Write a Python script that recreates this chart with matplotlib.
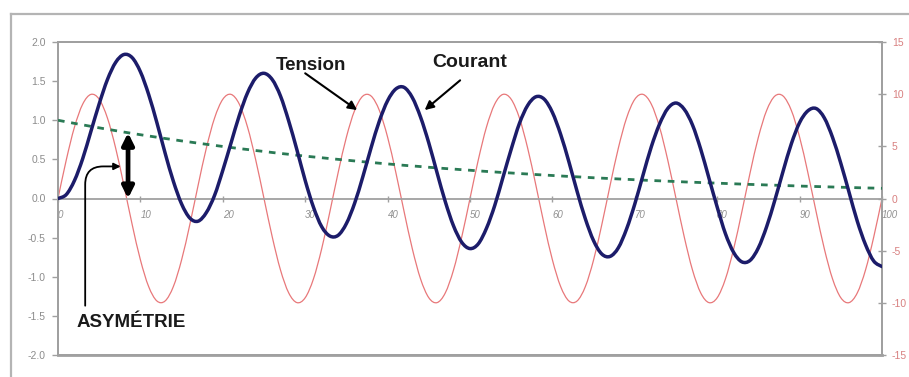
import matplotlib
matplotlib.use("Agg")
import matplotlib.pyplot as plt
from matplotlib.lines import Line2D
from matplotlib.path import Path
from matplotlib.patches import PathPatch

plt.rcParams['font.family'] = ['Liberation Sans', 'DejaVu Sans']

# time axis (ms)
t = list(range(0, 101))

# Tension (right axis)
tension = [0, 3.68, 6.85, 9.05, 9.98, 9.51, 7.71, 4.82, 1.25, -2.49,
           -5.88, -8.44, -9.82, -9.82, -8.44, -5.88, -2.49, 1.25, 4.82, 7.71,
           9.51, 9.98, 9.05, 6.85, 3.68, 0, -3.68, -6.85, -9.05, -9.98,
           -9.51, -7.71, -4.82, -1.25, 2.49, 5.88, 8.44, 9.82, 9.82, 8.44,
           5.88, 2.49, -1.25, -4.82, -7.71, -9.51, -9.98, -9.05, -6.85, -3.68,
           0, 3.68, 6.85, 9.05, 9.98, 9.51, 7.71, 4.82, 1.25, -2.49,
           -5.88, -8.44, -9.82, -9.82, -8.44, -5.88, -2.49, 1.25, 4.82, 7.71,
           9.51, 9.98, 9.05, 6.85, 3.68, 0, -3.68, -6.85, -9.05, -9.98,
           -9.51, -7.71, -4.82, -1.25, 2.49, 5.88, 8.44, 9.82, 9.82, 8.44,
           5.88, 2.49, -1.25, -4.82, -7.71, -9.51, -9.98, -9.05, -6.85, -3.68,
           0]

# Courant (left axis)
courant = [0, 0.05, 0.23, 0.51, 0.86, 1.21, 1.52, 1.74, 1.84, 1.80,
           1.62, 1.33, 0.97, 0.58, 0.22, -0.07, -0.25, -0.29, -0.18, 0.04,
           0.36, 0.71, 1.06, 1.35, 1.54, 1.60, 1.52, 1.31, 0.99, 0.62,
           0.23, -0.11, -0.36, -0.48, -0.47, -0.32, -0.06, 0.28, 0.65, 0.99,
           1.25, 1.40, 1.42, 1.29, 1.04, 0.71, 0.33, -0.04, -0.35, -0.56,
           -0.64, -0.58, -0.38, -0.09, 0.27, 0.63, 0.96, 1.19, 1.30, 1.27,
           1.10, 0.82, 0.47, 0.09, -0.26, -0.54, -0.71, -0.74, -0.63, -0.39,
           -0.07, 0.30, 0.66, 0.95, 1.15, 1.22, 1.14, 0.94, 0.63, 0.26,
           -0.11, -0.45, -0.69, -0.81, -0.79, -0.63, -0.36, -0.02, 0.35, 0.70,
           0.97, 1.12, 1.15, 1.03, 0.78, 0.45, 0.08, -0.29, -0.59, -0.80,
           -0.87]

# Composante continue (left axis)
continu = [1.000, 0.980, 0.960, 0.941, 0.922, 0.903, 0.885, 0.867, 0.849, 0.832,
           0.815, 0.799, 0.783, 0.767, 0.752, 0.736, 0.722, 0.707, 0.693, 0.679,
           0.665, 0.652, 0.638, 0.626, 0.613, 0.601, 0.588, 0.576, 0.565, 0.553,
           0.542, 0.531, 0.521, 0.510, 0.500, 0.490, 0.480, 0.470, 0.461, 0.451,
           0.442, 0.433, 0.424, 0.416, 0.408, 0.399, 0.391, 0.383, 0.376, 0.368,
           0.361, 0.353, 0.346, 0.339, 0.332, 0.326, 0.319, 0.313, 0.306, 0.300,
           0.294, 0.288, 0.282, 0.277, 0.271, 0.265, 0.260, 0.255, 0.250, 0.245,
           0.240, 0.235, 0.230, 0.226, 0.221, 0.217, 0.212, 0.208, 0.204, 0.200,
           0.196, 0.192, 0.188, 0.184, 0.180, 0.177, 0.173, 0.170, 0.166, 0.163,
           0.159, 0.156, 0.153, 0.150, 0.147, 0.144, 0.141, 0.138, 0.135, 0.133,
           0.130]

x_ticks = [0, 10, 20, 30, 40, 50, 60, 70, 80, 90, 100]
left_ticks = [-2.0, -1.5, -1.0, -0.5, 0.0, 0.5, 1.0, 1.5, 2.0]
right_ticks = [-15, -10, -5, 0, 5, 10, 15]


def smooth_path(xs, ys):
    """Excel-style smoothed line: cubic Bezier through every data point."""
    n = len(xs)
    verts = [(xs[0], ys[0])]
    codes = [Path.MOVETO]
    for i in range(n - 1):
        x0, y0 = (xs[i - 1], ys[i - 1]) if i > 0 else (xs[i], ys[i])
        x1, y1 = xs[i], ys[i]
        x2, y2 = xs[i + 1], ys[i + 1]
        x3, y3 = (xs[i + 2], ys[i + 2]) if i + 2 < n else (xs[i + 1], ys[i + 1])
        c1 = (x1 + (x2 - x0) / 6.0, y1 + (y2 - y0) / 6.0)
        c2 = (x2 - (x3 - x1) / 6.0, y2 - (y3 - y1) / 6.0)
        verts += [c1, c2, (x2, y2)]
        codes += [Path.CURVE4] * 3
    return Path(verts, codes)


W, H = 909, 377
fig = plt.figure(figsize=(W / 100, H / 100), dpi=100)
fig.patch.set_facecolor('white')

# outer chart frame (only top/left visible)
fig.add_artist(Line2D([11 / W, 11 / W], [0, 1 - 14 / H], transform=fig.transFigure,
                      color='#b4b4b4', lw=1.6))
fig.add_artist(Line2D([11 / W, 1.0], [1 - 14 / H, 1 - 14 / H], transform=fig.transFigure,
                      color='#b4b4b4', lw=1.6))

ax = fig.add_axes([58 / W, 22 / H, (882 - 58) / W, (355 - 42) / H])
ax2 = ax.twinx()

gray = '#8c8c8c'
ax.set_xlim(0, 100)
ax.set_ylim(-2, 2)
ax2.set_ylim(-15, 15)

ax2.add_patch(PathPatch(smooth_path(t, tension), facecolor='none', edgecolor='#e8787a',
                        lw=0.9, zorder=2))
ax.add_patch(PathPatch(smooth_path(t, continu), facecolor='none', edgecolor='#2a7a55',
                       lw=2.0, ls=(0, (2.4, 2.4)), zorder=3))
ax.add_patch(PathPatch(smooth_path(t, courant), facecolor='none', edgecolor='#1c1c6a',
                       lw=2.5, zorder=4, joinstyle='round', capstyle='round'))

# put left axis in front of twin
ax.set_zorder(ax2.get_zorder() + 1)
ax.patch.set_visible(False)

for a in (ax, ax2):
    for s in a.spines.values():
        s.set_color('#a0a0a0')
        s.set_linewidth(1.3)

ax.spines['bottom'].set_position(('data', 0))
ax.axhline(-2, color='#a0a0a0', lw=2.0, clip_on=False, zorder=1)

ax.set_xticks(x_ticks)
ax.set_xticklabels([str(v) for v in x_ticks], fontsize=7, color='#909090', style='italic')
ax.tick_params(axis='x', direction='inout', length=4, width=1, color='#a0a0a0', pad=6)
for lbl in ax.get_xticklabels():
    lbl.set_horizontalalignment('left')

ax.set_yticks(left_ticks)
ax.set_yticklabels(['%.1f' % v for v in left_ticks], fontsize=7.5, color=gray)
ax.tick_params(axis='y', direction='out', length=4, width=1, color='#a0a0a0', pad=5)

ax2.set_yticks(right_ticks)
ax2.set_yticklabels([str(v) for v in right_ticks], fontsize=7.5, color='#d88080')
ax2.tick_params(axis='y', direction='inout', length=6, width=1, color='#a0a0a0', pad=4)

# annotations
ax.text(30.7, 1.70, 'Tension', fontsize=13.5, fontweight='bold', ha='center', va='center', color='#1a1a1a')
ax.text(50.0, 1.74, 'Courant', fontsize=14, fontweight='bold', ha='center', va='center', color='#1a1a1a')
ax.text(8.9, -1.58, 'ASYMÉTRIE', fontsize=13.5, fontweight='bold', ha='center', va='center', color='#1a1a1a')

ax.annotate('', xy=(36.3, 1.13), xytext=(30.0, 1.60),
            arrowprops=dict(arrowstyle='-|>', color='black', lw=1.5, mutation_scale=13,
                            shrinkA=0, shrinkB=0))
ax.annotate('', xy=(44.5, 1.13), xytext=(48.8, 1.51),
            arrowprops=dict(arrowstyle='-|>', color='black', lw=1.5, mutation_scale=13,
                            shrinkA=0, shrinkB=0))
ax.annotate('', xy=(8.5, 0.0), xytext=(8.5, 0.84),
            arrowprops=dict(arrowstyle='<|-|>', color='black', lw=3.4, mutation_scale=17,
                            shrinkA=0, shrinkB=0), zorder=6)
ax.annotate('', xy=(7.6, 0.41), xytext=(3.3, -1.37),
            arrowprops=dict(arrowstyle='-|>', color='black', lw=1.3, mutation_scale=10,
                            shrinkA=0, shrinkB=0,
                            connectionstyle='angle,angleA=90,angleB=0,rad=18'), zorder=6)

fig.savefig('out.png', dpi=100, facecolor='white')
